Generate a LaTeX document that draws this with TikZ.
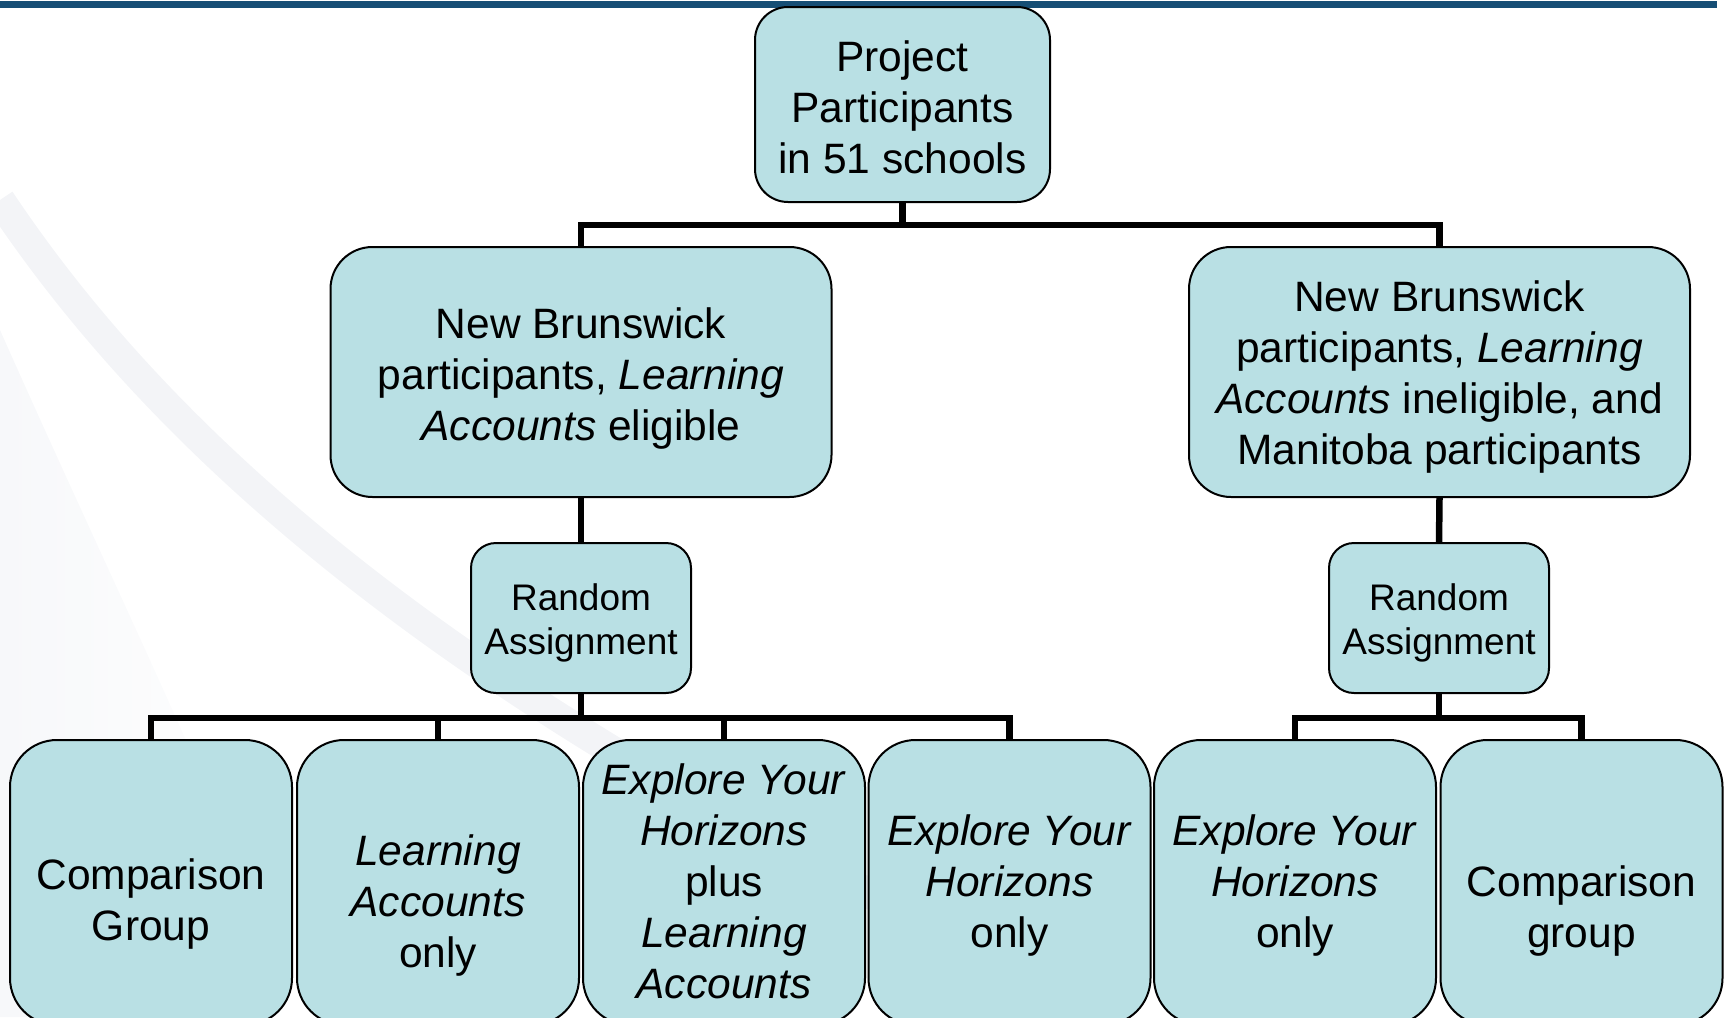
\documentclass[tikz,border=0pt]{standalone}
\usepackage{fontspec}
\setmainfont{Liberation Sans}
\usetikzlibrary{calc}
\definecolor{boxfill}{RGB}{185,224,228}
\definecolor{bandblue}{RGB}{22,78,117}
\definecolor{swooshlight}{RGB}{243,244,247}
\definecolor{swooshpale}{RGB}{247,248,250}
\newcommand\bigtxt{\fontsize{42.5}{51}\selectfont}
\newcommand\smalltxt{\fontsize{37}{44}\selectfont}

\begin{document}
\begin{tikzpicture}[x=1pt,y=-1pt,
  rbox/.style={draw=black, line width=2pt, fill=boxfill, rounded corners=#1, inner sep=0pt},
  topbox/.style={rbox=33pt, minimum width=295pt, minimum height=195pt},
  midbox/.style={rbox=42pt, minimum width=501pt, minimum height=250pt},
  rabox/.style={rbox=25pt, minimum width=220pt, minimum height=150pt},
  leafbox/.style={rbox=47pt, minimum width=282pt, minimum height=285pt},
  bigtext/.style={align=center, inner sep=0pt, font=\bigtxt},
  smalltext/.style={align=center, inner sep=0pt, font=\smalltxt},
  conn/.style={draw=black, line width=6.5pt, line join=miter}]

  % page frame
  \useasboundingbox (0,0) rectangle (1728,1017);
  \clip (0,0) rectangle (1728,1017);

  % faint background swooshes
  \shade[left color=swooshpale, right color=white]
        (0,330) .. controls (120,600) and (220,800) .. (300,1017) -- (0,1017) -- cycle;
  \draw[swooshlight, line width=30pt] (0,200) .. controls (200,500) and (550,760) .. (1130,1017);

  % header rule
  \fill[bandblue] (0,1) rectangle (1717,8);

  % boxes
  \node[topbox] (top) at (902.5,104.5) {};
  \node[midbox] (m1) at (581,372) {};
  \node[midbox] (m2) at (1439.5,372) {};
  \node[rabox] (ra1) at (581,618) {};
  \node[rabox] (ra2) at (1439,618) {};
  \node[leafbox] (b1) at (151,882.5) {};
  \node[leafbox] (b2) at (438,882.5) {};
  \node[leafbox] (b3) at (724,882.5) {};
  \node[leafbox] (b4) at (1009.5,882.5) {};
  \node[leafbox] (b5) at (1295,882.5) {};
  \node[leafbox] (b6) at (1581.5,882.5) {};

  % labels
  \node[bigtext] (ttop) at ($(top.center)+(0,2.5)$) {Project\\Participants\\in 51 schools};
  \node[bigtext] (tm1) at ($(m1.center)+(0,7)$)
    {New Brunswick\\participants, \textit{Learning}\\\textit{Accounts} eligible};
  \node[bigtext] (tm2) at ($(m2.center)+(0,5)$)
    {New Brunswick\\participants, \textit{Learning}\\\textit{Accounts} ineligible, and\\Manitoba participants};
  \node[smalltext] (tra1) at ($(ra1.center)+(0,4.5)$) {Random\\Assignment};
  \node[smalltext] (tra2) at ($(ra2.center)+(0,4.5)$) {Random\\Assignment};

  \node[bigtext] (t1) at ($(b1.center)+(0,21.5)$) {Comparison\\Group};
  \node[bigtext] (t2) at ($(b2.center)+(0,23)$) {\textit{Learning}\\\textit{Accounts}\\only};
  \node[bigtext] (t3) at ($(b3.center)+(0,-1)$)
    {\textit{Explore Your}\\\textit{Horizons}\\plus\\\textit{Learning}\\\textit{Accounts}};
  \node[bigtext] (t4) at ($(b4.center)+(0,2.5)$) {\textit{Explore Your}\\\textit{Horizons}\\only};
  \node[bigtext] (t5) at ($(b5.center)+(0,2.5)$) {\textit{Explore Your}\\\textit{Horizons}\\only};
  \node[bigtext] (t6) at ($(b6.center)+(0,28)$) {Comparison\\group};

  % connectors
  \draw[conn] (top.south) -- ++(0,22) coordinate (jt);
  \draw[conn] (m1.north) |- (jt) -| (m2.north);

  \draw[conn] (m1.south) -- (ra1.north);
  \draw[conn] (m2.south) -- (ra2.north);

  \draw[conn] (ra1.south) -- ++(0,24) coordinate (jl);
  \draw[conn] (b1.north) |- (jl) -| (b4.north);
  \draw[conn] (b2.north) -- (b2.north |- jl);
  \draw[conn] (b3.north) -- (b3.north |- jl);

  \draw[conn] (ra2.south) -- ++(0,24) coordinate (jr);
  \draw[conn] (b5.north) |- (jr) -| (b6.north);
\end{tikzpicture}
\end{document}
